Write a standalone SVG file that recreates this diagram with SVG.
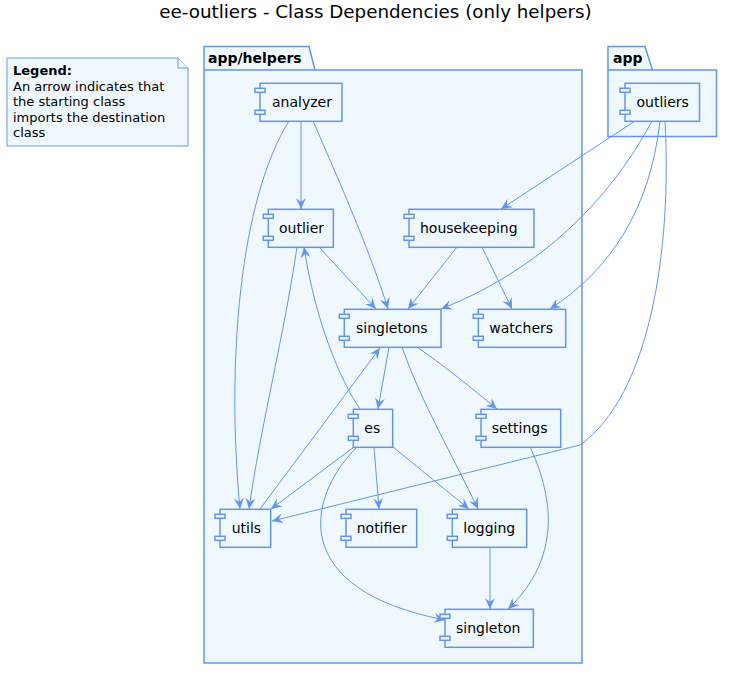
<svg xmlns="http://www.w3.org/2000/svg" width="738" height="674" viewBox="0 0 738 674">
<style>
text{font-family:"DejaVu Sans",sans-serif;fill:#000}
.title{font-size:18.3px}
.pkg{fill:#F0F8FF;stroke:#6495ED;stroke-width:1.5}
.pl{font-size:14px;font-weight:bold}
.box{fill:#F0F8FF;stroke:#6495ED;stroke-width:1.5}
.nl{font-size:14px}
.e{fill:none;stroke:#6495ED;stroke-width:1;marker-end:url(#ah)}
.note{fill:#F0F8FF;stroke:#6495ED;stroke-width:1}
.lt{font-size:13px}
</style>
<defs>
<marker id="ah" viewBox="0 0 12 10" refX="11" refY="5" markerWidth="12" markerHeight="10" markerUnits="userSpaceOnUse" orient="auto">
<path d="M0,0 L11,5 L0,10 L4,5 Z" fill="#6495ED"/>
</marker>
</defs>
<rect width="738" height="674" fill="#fff"/>
<text class="title" x="375.5" y="18" text-anchor="middle">ee-outliers - Class Dependencies (only helpers)</text>

<g id="legend">
<path class="note" d="M7,58 H178 L188,68 V146 H7 Z"/>
<path class="note" d="M178,58 V68 H188" fill="none"/>
<text class="lt" x="13" y="75" font-weight="bold">Legend:</text>
<text class="lt" x="13" y="90.5">An arrow indicates that</text>
<text class="lt" x="13" y="106">the starting class</text>
<text class="lt" x="13" y="121.5">imports the destination</text>
<text class="lt" x="13" y="137">class</text>
</g>

<g id="pkg-helpers">
<path class="pkg" d="M204,46.5 H309 L315,70 H582 V663 H204 Z"/>
<path class="pkg" d="M204,70 H315" fill="none"/>
<text class="pl" x="208" y="63">app/helpers</text>
</g>
<g id="pkg-app">
<path class="pkg" d="M608,46.5 H645 L652.5,70 H716.5 V136.5 H608 Z"/>
<path class="pkg" d="M608,70 H652.5" fill="none"/>
<text class="pl" x="613" y="63">app</text>
</g>

<g id="edges">
<path class="e" d="M301,121 L301,209"/>
<path class="e" d="M313,121 C330,160 370,250 388,309"/>
<path class="e" d="M289,121 C240,200 226,360 240,509"/>
<path class="e" d="M297,247 C285,330 260,430 249,509"/>
<path class="e" d="M319,247 L376,309"/>
<path class="e" d="M360,409 C340,380 315,320 304,247"/>
<path class="e" d="M260,509 L380,348"/>
<path class="e" d="M389,347 L378,409"/>
<path class="e" d="M402,347 C420,400 455,460 478,509"/>
<path class="e" d="M417,347 C450,370 480,395 497,409"/>
<path class="e" d="M457,247 L408,309"/>
<path class="e" d="M482,247 L512,309"/>
<path class="e" d="M635,121 L501,209"/>
<path class="e" d="M652,121 C610,200 540,270 441,309"/>
<path class="e" d="M660,121 C650,210 610,270 550,309"/>
<path class="e" d="M665,121 C672,250 650,395 580,445 L272,521"/>
<path class="e" d="M354,447 L271,509"/>
<path class="e" d="M356,448 C305,500 290,590 445,620"/>
<path class="e" d="M374,447 L379,509"/>
<path class="e" d="M393,447 L469,509"/>
<path class="e" d="M490,547 L490,609"/>
<path class="e" d="M530,447 C555,500 560,560 508,609"/>
</g>

<g id="analyzer">
<rect class="box" x="260" y="83.3" width="82" height="38"/>
<rect class="box" x="255" y="88.3" width="10" height="4"/>
<rect class="box" x="255" y="110.3" width="10" height="4"/>
<text class="nl" x="272" y="107">analyzer</text>
</g>
<g id="outliers">
<rect class="box" x="625" y="83.3" width="74.5" height="38"/>
<rect class="box" x="620" y="88.3" width="10" height="4"/>
<rect class="box" x="620" y="110.3" width="10" height="4"/>
<text class="nl" x="636.5" y="107">outliers</text>
</g>
<g id="outlier">
<rect class="box" x="268.3" y="209.3" width="65" height="38"/>
<rect class="box" x="263.3" y="214.3" width="10" height="4"/>
<rect class="box" x="263.3" y="236.3" width="10" height="4"/>
<text class="nl" x="279" y="233">outlier</text>
</g>
<g id="housekeeping">
<rect class="box" x="409" y="209.3" width="125" height="38"/>
<rect class="box" x="404" y="214.3" width="10" height="4"/>
<rect class="box" x="404" y="236.3" width="10" height="4"/>
<text class="nl" x="420" y="233">housekeeping</text>
</g>
<g id="singletons">
<rect class="box" x="344.3" y="309.3" width="96.7" height="38"/>
<rect class="box" x="339.3" y="314.3" width="10" height="4"/>
<rect class="box" x="339.3" y="336.3" width="10" height="4"/>
<text class="nl" x="356" y="333">singletons</text>
</g>
<g id="watchers">
<rect class="box" x="478.3" y="309.3" width="87.4" height="38"/>
<rect class="box" x="473.3" y="314.3" width="10" height="4"/>
<rect class="box" x="473.3" y="336.3" width="10" height="4"/>
<text class="nl" x="489.3" y="333">watchers</text>
</g>
<g id="es">
<rect class="box" x="353.3" y="409.3" width="39.4" height="38"/>
<rect class="box" x="348.3" y="414.3" width="10" height="4"/>
<rect class="box" x="348.3" y="436.3" width="10" height="4"/>
<text class="nl" x="364.3" y="433">es</text>
</g>
<g id="settings">
<rect class="box" x="481" y="409.3" width="79.7" height="38"/>
<rect class="box" x="476" y="414.3" width="10" height="4"/>
<rect class="box" x="476" y="436.3" width="10" height="4"/>
<text class="nl" x="491.7" y="433">settings</text>
</g>
<g id="utils">
<rect class="box" x="220" y="509.3" width="50.7" height="38"/>
<rect class="box" x="215" y="514.3" width="10" height="4"/>
<rect class="box" x="215" y="536.3" width="10" height="4"/>
<text class="nl" x="231.7" y="533">utils</text>
</g>
<g id="notifier">
<rect class="box" x="346" y="509.3" width="70.7" height="38"/>
<rect class="box" x="341" y="514.3" width="10" height="4"/>
<rect class="box" x="341" y="536.3" width="10" height="4"/>
<text class="nl" x="356.7" y="533">notifier</text>
</g>
<g id="logging">
<rect class="box" x="452.3" y="509.3" width="74.4" height="38"/>
<rect class="box" x="447.3" y="514.3" width="10" height="4"/>
<rect class="box" x="447.3" y="536.3" width="10" height="4"/>
<text class="nl" x="463.3" y="533">logging</text>
</g>
<g id="singleton">
<rect class="box" x="445" y="609.3" width="88.3" height="38"/>
<rect class="box" x="440" y="614.3" width="10" height="4"/>
<rect class="box" x="440" y="636.3" width="10" height="4"/>
<text class="nl" x="456" y="633">singleton</text>
</g>
</svg>
